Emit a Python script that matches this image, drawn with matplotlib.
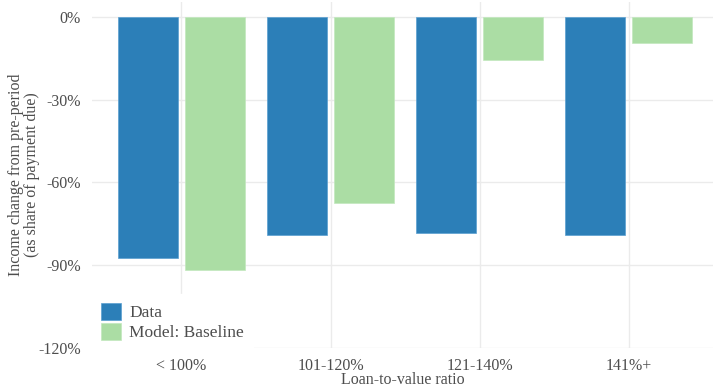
import matplotlib
matplotlib.use("Agg")
import matplotlib.pyplot as plt
import numpy as np

categories = ["< 100%", "101-120%", "121-140%", "141%+"]
data_vals = [-87.5, -79.2, -78.4, -79.0]
model_vals = [-91.7, -67.3, -15.6, -9.5]
series_names = ["Data", "Model: Baseline"]
yticks = [0, -30, -60, -90, -120]

plt.rcParams["font.family"] = ["Liberation Serif", "DejaVu Serif"]
gray = "#4d4d4d"
grid_col = "#ebebeb"

fig = plt.figure(figsize=(7.13, 3.90), dpi=100)
ax = fig.add_axes([92 / 713, 1 - 348 / 390, 1 - 92 / 713, 346 / 390])

x = np.arange(len(categories))
w = 0.405
off = 0.225
ax.bar(x - off, data_vals, w, color="#2C7FB8", edgecolor="#5a9fd0", linewidth=0.5,
       label=series_names[0], zorder=2)
ax.bar(x + off, model_vals, w, color="#ABDDA4", edgecolor="#c2e8bd", linewidth=0.5,
       label=series_names[1], zorder=2)

ax.set_xlim(-0.6, 3.565)
ax.set_ylim(-120, 5.4)
ax.set_xticks(x)
ax.set_xticklabels(categories)
ax.set_yticks(yticks)
ax.set_yticklabels([f"{v}%" for v in yticks])
ax.tick_params(length=0, labelsize=11.5, colors=gray, pad=7)
ax.tick_params(axis="y", pad=8)
ax.grid(True, color=grid_col, linewidth=1, zorder=0)
ax.set_axisbelow(True)
for s in ax.spines.values():
    s.set_visible(False)

ax.set_ylabel("Income change from pre-period\n(as share of payment due)",
              fontsize=11.5, color=gray, linespacing=1.05)
ax.yaxis.set_label_coords(-0.083, 0.5)
ax.set_xlabel("Loan-to-value ratio", fontsize=11.5, color=gray)
ax.xaxis.set_label_coords(0.5, -0.07)

leg = ax.legend(loc="lower left", bbox_to_anchor=(92 / 713, 40 / 390),
                bbox_transform=fig.transFigure, borderaxespad=0,
                fontsize=12.5, handlelength=1.15, handleheight=1.15,
                handletextpad=0.5, labelspacing=0.1, borderpad=0.5,
                frameon=True, fancybox=False, framealpha=1)
leg.get_frame().set_facecolor("white")
leg.get_frame().set_edgecolor("white")
leg.set_zorder(5)
for t in leg.get_texts():
    t.set_color(gray)

fig.savefig("out.png", dpi=100)
